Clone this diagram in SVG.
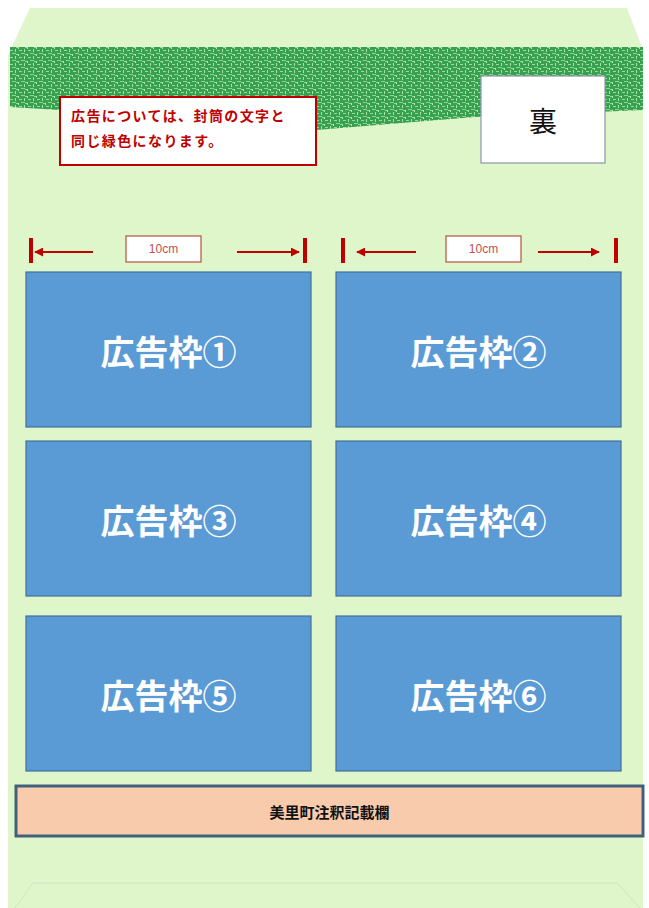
<svg xmlns="http://www.w3.org/2000/svg" width="649" height="908" viewBox="0 0 649 908">
<style>
.ad{fill:#5b9bd5;stroke:#41719c;stroke-width:1.2}
.adt{font-family:"Noto Sans CJK JP","Noto Sans",sans-serif;font-size:34px;font-weight:bold;fill:#ffffff;text-anchor:middle;dominant-baseline:central}
.tick{fill:#c00000}
.dim{stroke:#c00000;stroke-width:2;fill:none}
.lbl{fill:#ffffff;stroke:#b5533c;stroke-width:1.2}
.lblt{font-family:"Liberation Sans","Noto Sans CJK JP",sans-serif;font-size:12px;fill:#c0504d;text-anchor:middle;dominant-baseline:central}
.note{font-family:"Noto Sans CJK JP",sans-serif;font-size:14px;font-weight:bold;fill:#c00000;letter-spacing:1.4px}
</style>
<defs>
<pattern id="tex" width="9" height="7" patternUnits="userSpaceOnUse">
<rect width="9" height="7" fill="#37a150"/>
<rect x="1" y="1" width="3" height="1" fill="#9bd9a0"/>
<rect x="6" y="0" width="1" height="3" fill="#a8e0aa"/>
<rect x="3" y="4" width="4" height="1" fill="#8fd295"/>
<rect x="0" y="5" width="1" height="2" fill="#b2e4b0"/>
<rect x="7" y="5" width="2" height="1" fill="#9bd9a0"/>
</pattern>
<marker id="ah" viewBox="0 0 10 10" refX="9" refY="5" markerWidth="4.5" markerHeight="4.5" orient="auto-start-reverse" markerUnits="strokeWidth">
<path d="M0,0 L10,5 L0,10 Z" fill="#c00000"/>
</marker>
</defs>
<rect width="649" height="908" fill="#ffffff"/>
<g id="envelope">
<polygon points="30,8 627,8 643,50 643,908 8,908 8,55" fill="#dff6cb"/>
<polygon points="10,47 643,47 643,110 475,117 316,130 160,116 10,107" fill="url(#tex)"/>
<polyline points="15,908 33,883 617,883 640,908" fill="none" stroke="#d0e2c0" stroke-width="1"/>
</g>
<g id="note">
<rect x="60" y="97" width="256" height="68" fill="#ffffff" stroke="#c00000" stroke-width="2"/>
<text class="note" x="71" y="121">広告については、封筒の文字と</text>
<text class="note" x="71" y="146">同じ緑色になります。</text>
</g>
<g id="ura">
<rect x="481" y="76" width="124" height="87" fill="#ffffff" stroke="#8a97a8" stroke-width="1.2"/>
<text x="543" y="120" font-family="Noto Sans CJK JP,sans-serif" font-size="28" fill="#111111" text-anchor="middle" dominant-baseline="central">裏</text>
</g>
<g id="connectors">
<rect class="tick" x="29" y="238" width="4" height="25"/>
<rect class="tick" x="303" y="238" width="4" height="25"/>
<line class="dim" x1="93" y1="252" x2="35" y2="252" marker-end="url(#ah)"/>
<line class="dim" x1="237" y1="252" x2="299" y2="252" marker-end="url(#ah)"/>
<rect class="tick" x="341" y="238" width="4" height="25"/>
<rect class="tick" x="614" y="238" width="4" height="25"/>
<line class="dim" x1="416" y1="252" x2="357" y2="252" marker-end="url(#ah)"/>
<line class="dim" x1="538" y1="252" x2="599" y2="252" marker-end="url(#ah)"/>
</g>
<g id="dim1">
<rect class="lbl" x="126" y="236" width="75" height="26"/>
<text class="lblt" x="163.5" y="249">10cm</text>
</g>
<g id="dim2">
<rect class="lbl" x="446" y="236" width="75" height="26"/>
<text class="lblt" x="483.5" y="249">10cm</text>
</g>
<g id="ad1"><rect class="ad" x="26" y="272" width="285" height="155"/><text class="adt" x="168.5" y="350">広告枠①</text></g>
<g id="ad2"><rect class="ad" x="336" y="272" width="285" height="155"/><text class="adt" x="478.5" y="350">広告枠②</text></g>
<g id="ad3"><rect class="ad" x="26" y="441" width="285" height="155"/><text class="adt" x="168.5" y="519">広告枠③</text></g>
<g id="ad4"><rect class="ad" x="336" y="441" width="285" height="155"/><text class="adt" x="478.5" y="519">広告枠④</text></g>
<g id="ad5"><rect class="ad" x="26" y="616" width="285" height="155"/><text class="adt" x="168.5" y="694">広告枠⑤</text></g>
<g id="ad6"><rect class="ad" x="336" y="616" width="285" height="155"/><text class="adt" x="478.5" y="694">広告枠⑥</text></g>
<g id="notes">
<rect x="16" y="786" width="627" height="50" fill="#f8cbad" stroke="#41607a" stroke-width="3"/>
<text x="329.5" y="811" font-family="Noto Sans CJK JP,sans-serif" font-size="15" font-weight="bold" fill="#111111" text-anchor="middle" dominant-baseline="central">美里町注釈記載欄</text>
</g>
</svg>
